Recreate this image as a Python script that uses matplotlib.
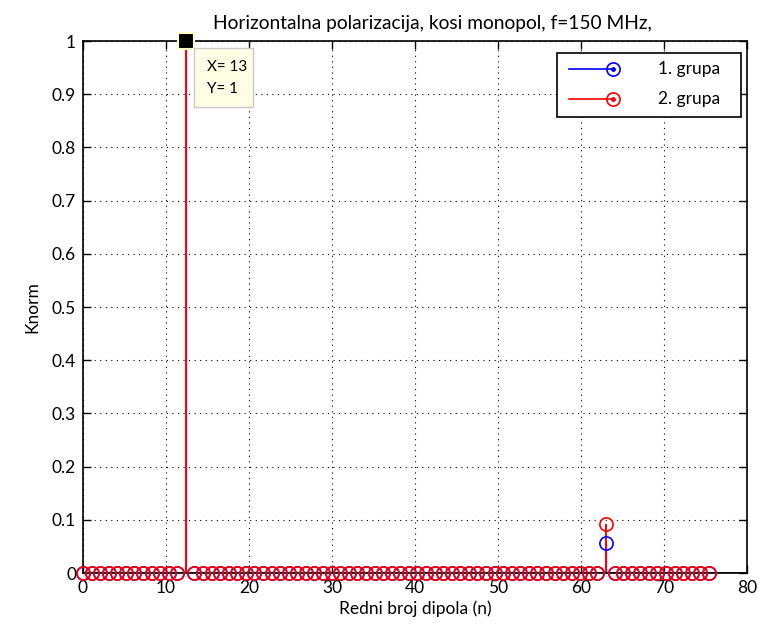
import numpy as np
import matplotlib
matplotlib.use("Agg")
import matplotlib.pyplot as plt
from matplotlib.patches import Rectangle

plt.rcParams['font.family'] = ['Lato', 'DejaVu Sans']

# redni broj dipola (74 dipola), razmak na x osi
broj_dipola = 74
korak = 1.033
polozaj = np.arange(broj_dipola) * korak

# normirane vrijednosti po grupama
grupa1 = [0] * 12 + [1] + [0] * 48 + [0.057] + [0] * 12
grupa2 = [0] * 12 + [1] + [0] * 48 + [0.093] + [0] * 12

naslov = "Horizontalna polarizacija, kosi monopol, f=150 MHz,"
x_ticks = [0, 10, 20, 30, 40, 50, 60, 70, 80]
y_ticks = [0, 0.1, 0.2, 0.3, 0.4, 0.5, 0.6, 0.7, 0.8, 0.9, 1]
y_labels = ['0', '0.1', '0.2', '0.3', '0.4', '0.5', '0.6', '0.7', '0.8', '0.9', '1']

W, H = 764, 628
fig = plt.figure(figsize=(W / 100, H / 100), dpi=100)
ax = fig.add_axes([83 / W, 1 - 573 / H, (747 - 83) / W, (573 - 41) / H])

ms = 9.5
for y, boja, lw in [(grupa1, 'blue', 0.9), (grupa2, 'red', 1.4)]:
    y = np.array(y, dtype=float)
    ax.vlines(polozaj, 0, y, color=boja, lw=lw, zorder=2)
    ax.plot(polozaj, y, 'o', mfc='none', mec=boja, ms=ms, mew=1.2, zorder=3, clip_on=False)

ax.axhline(0, color='black', lw=1.2, zorder=2)

ax.set_xlim(0, 80)
ax.set_ylim(0, 1)
ax.set_xticks(x_ticks)
ax.set_yticks(y_ticks)
ax.set_yticklabels(y_labels)
ax.tick_params(direction='in', length=6, width=1, labelsize=12.5, top=True, right=True,
               colors='black', pad=5)
ax.grid(True, linestyle=(0, (1, 4)), color='black', lw=0.8)
for s in ax.spines.values():
    s.set_linewidth(1.2)

ax.set_title(naslov, fontsize=13.8, pad=9, x=(432 - 83) / (747 - 83))
ax.set_xlabel("Redni broj dipola (n)", fontsize=12.5, labelpad=3)
ax.set_ylabel("Knorm", fontsize=12.5, labelpad=8)

# legenda (stem stil), u pikselima slike
def fx(px):
    return px / W

def fy(py):
    return 1 - py / H

fig.patches.append(Rectangle((fx(557), fy(117)), (741 - 557) / W, (117 - 53) / H,
                             transform=fig.transFigure, fc='white', ec='black', lw=1.2,
                             zorder=10))
for py, boja, lab in [(69, 'blue', '1. grupa'), (99, 'red', '2. grupa')]:
    fig.add_artist(plt.Line2D([fx(569), fx(613)], [fy(py), fy(py)], color=boja, lw=1.2,
                              transform=fig.transFigure, zorder=11))
    fig.add_artist(plt.Line2D([fx(613)], [fy(py)], marker='o', mfc='none', mec=boja, ms=ms,
                              mew=1.2, transform=fig.transFigure, zorder=11))
    fig.add_artist(plt.Line2D([fx(613)], [fy(py)], marker='o', color=boja, ms=2.5,
                              transform=fig.transFigure, zorder=11))
    fig.text(fx(658), fy(py), lab, fontsize=12.5, va='center', ha='left', zorder=12)

# data tip
xt = polozaj[12]
ax.plot([xt], [1], 's', color='black', mec='#ffffc8', ms=11, mew=1.5, zorder=6, clip_on=False)
fig.patches.append(Rectangle((fx(194), fy(107)), (253 - 194) / W, (107 - 48) / H,
                             transform=fig.transFigure, fc='#ffffe6', ec='#c8c8c8', lw=1,
                             zorder=10))
fig.text(fx(207), fy(67), "X= 13", fontsize=11, va='center', ha='left', zorder=12)
fig.text(fx(207), fy(89), "Y= 1", fontsize=11, va='center', ha='left', zorder=12)

fig.savefig("out.png", dpi=100)
